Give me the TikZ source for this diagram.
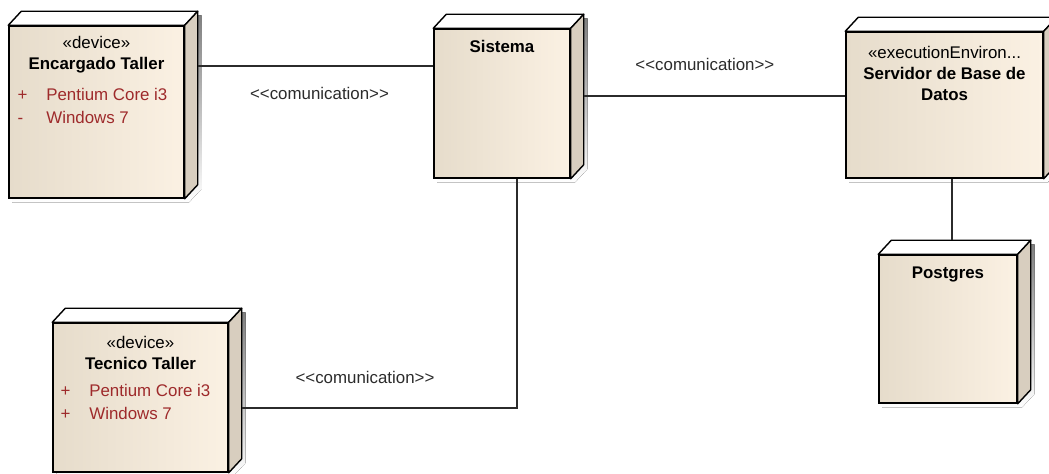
\documentclass[tikz,border=0pt]{standalone}
\usepackage{fontspec}
\newfontfamily\umlfont{Liberation Sans}
\usepackage{tikz}
\usetikzlibrary{calc,positioning,backgrounds}
\definecolor{faceL}{HTML}{E6DCCB}
\definecolor{faceR}{HTML}{FBF1E3}
\definecolor{side}{HTML}{D8CEBF}
\definecolor{shade}{HTML}{A4A4A4}
\definecolor{attr}{HTML}{9E2A2B}
\definecolor{wire}{HTML}{2B2B2B}

\begin{document}
\begin{tikzpicture}[x=0.025cm,y=-0.025cm,font=\umlfont\fontsize{12}{15}\selectfont,
    nodebox/.style={draw,line width=1pt,inner sep=0pt,left color=faceL,right color=faceR},
    face/.style={draw,line width=1pt,line join=round},
    head/.style={align=center,inner sep=0pt,anchor=north},
    attrs/.style={align=left,inner sep=0pt,anchor=north west,text=attr,font=\umlfont\fontsize{12}{16}\selectfont},
    wire/.style={draw=wire,line width=.8pt},
    lbl/.style={inner sep=0pt,text=wire}]
  \useasboundingbox (0,0) rectangle (1049,473);
  % front faces
  \node[nodebox,minimum width=4.375cm,minimum height=4.3cm] (enc) at (96.5,112) {};
  \node[nodebox,minimum width=3.4cm,minimum height=3.725cm] (sis) at (502,103.5) {};
  \node[nodebox,minimum width=4.925cm,minimum height=3.65cm] (srv) at (944.5,105) {};
  \node[nodebox,minimum width=3.45cm,minimum height=3.7cm] (pg) at (948,329) {};
  \node[nodebox,minimum width=4.375cm,minimum height=3.725cm] (tec) at (140.5,397.5) {};
  % depth faces and shadows
  \foreach \n in {enc,sis,srv,pg,tec}{
    \coordinate (\n-nw) at ($(\n.north west)+(13,-14)$);
    \coordinate (\n-ne) at ($(\n.north east)+(13,-14)$);
    \coordinate (\n-se) at ($(\n.south east)+(13,-14)$);
    \begin{scope}[on background layer]
      \fill[shade,transform canvas={shift={(4,4)}}] (\n.south west) -- (\n.north west) -- (\n-nw)
        -- (\n-ne) -- (\n-se) -- (\n.south east) -- cycle;
    \end{scope}
    \filldraw[face,fill=white] (\n.north west) -- (\n-nw) -- (\n-ne) -- (\n.north east) -- cycle;
    \filldraw[face,fill=side] (\n.north east) -- (\n-ne) -- (\n-se) -- (\n.south east) -- cycle;
  }
  % texts
  \node[head] (enc-hd) at ($(enc.north)+(0,11)$) {«device»\\\textbf{Encargado Taller}};
  \node[attrs] (enc-at) at ($(enc.north west)+(9,63)$)
    {\makebox[0.72cm][l]{+}Pentium Core i3\\\makebox[0.72cm][l]{-}Windows 7};
  \node[head] (sis-hd) at ($(sis.north)+(0,12)$) {\textbf{Sistema}};
  \node[head] (srv-hd) at ($(srv.north)+(0,15)$)
    {«executionEnviron...\\\textbf{Servidor de Base de}\\\textbf{Datos}};
  \node[head] (pg-hd) at ($(pg.north)+(0,12)$) {\textbf{Postgres}};
  \node[head] (tec-hd) at ($(tec.north)+(0,14)$) {«device»\\\textbf{Tecnico Taller}};
  \node[attrs] (tec-at) at ($(tec.north west)+(8,62)$)
    {\makebox[0.72cm][l]{+}Pentium Core i3\\\makebox[0.72cm][l]{+}Windows 7};
  % connectors
  \draw[wire] (enc-ne |- 0,66) -- node[lbl,xshift=0.1cm,yshift=-0.675cm] (c1) {<<comunication>>} (sis.west |- 0,66);
  \draw[wire] (sis-ne |- 0,96) -- node[lbl,xshift=-0.24cm,yshift=0.8cm] (c2) {<<comunication>>} (srv.west |- 0,96);
  \draw[wire] (sis.south -| 517,0) |- node[lbl,pos=0.75,xshift=-0.36cm,yshift=0.775cm] (c3) {<<comunication>>} (tec-ne |- 0,408);
  \draw[wire] (srv.south -| 952,0) -- (pg-nw -| 952,0);
\end{tikzpicture}
\end{document}
